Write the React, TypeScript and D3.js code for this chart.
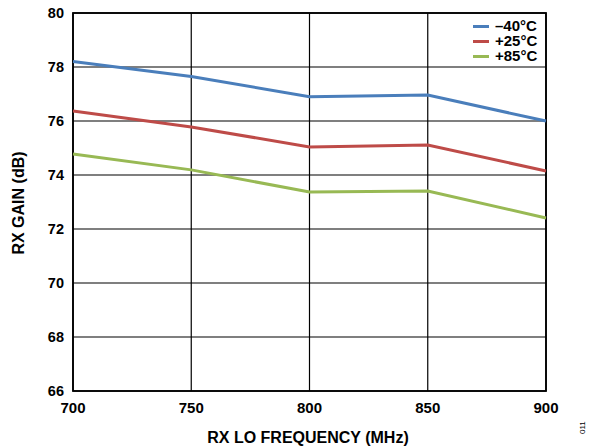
import React from "react";
import * as d3 from "d3";

const freqs = [700, 750, 800, 850, 900];
const gainM40 = [78.2, 77.65, 76.9, 76.96, 76.0];
const gain25 = [76.37, 75.78, 75.04, 75.11, 74.15];
const gain85 = [74.78, 74.19, 73.37, 73.41, 72.41];
const seriesNames = ["\u201340\u00B0C", "+25\u00B0C", "+85\u00B0C"];
const seriesColors = ["#4a7ebb", "#be4b48", "#98b954"];
const xTicks = [700, 750, 800, 850, 900];
const yTicks = [66, 68, 70, 72, 74, 76, 78, 80];

export default function App() {
  const W = 589, H = 446;
  const left = 73, right = 546, top = 13, bottom = 391;
  const x = d3.scaleLinear().domain([700, 900]).range([left, right]);
  const y = d3.scaleLinear().domain([66, 80]).range([bottom, top]);
  const series = [gainM40, gain25, gain85];
  const line = d3.line<number>().x((_, i) => x(freqs[i])).y((d) => y(d));
  const font = "'Liberation Sans', Arial, sans-serif";
  return (
    <svg width={W} height={H} style={{ position: "absolute", left: 0, top: 0, background: "#fff" }} fontFamily={font}>
      {yTicks.map((t) => (
        <line key={"gy" + t} x1={left} x2={right} y1={y(t)} y2={y(t)} stroke="#000" strokeWidth={1.2} />
      ))}
      {xTicks.map((t) => (
        <line key={"gx" + t} x1={x(t)} x2={x(t)} y1={top} y2={bottom} stroke="#000" strokeWidth={1.2} />
      ))}
      <rect x={left} y={top} width={right - left} height={bottom - top} fill="none" stroke="#000" strokeWidth={1.8} />
      {series.map((s, i) => (
        <path key={"s" + i} d={line(s) || ""} fill="none" stroke={seriesColors[i]} strokeWidth={3} />
      ))}
      {yTicks.map((t) => (
        <text key={"ty" + t} x={64} y={y(t) + 5} textAnchor="end" fontSize={14.5} fontWeight="bold">{t}</text>
      ))}
      {xTicks.map((t) => (
        <text key={"tx" + t} x={x(t)} y={413} textAnchor="middle" fontSize={15} fontWeight="bold">{t}</text>
      ))}
      <text x={308} y={443} textAnchor="middle" fontSize={16} fontWeight="bold">RX LO FREQUENCY (MHz)</text>
      <text transform={`translate(24,203) rotate(-90)`} textAnchor="middle" fontSize={16} fontWeight="bold">RX GAIN (dB)</text>
      <text transform="translate(585,434) rotate(-90)" textAnchor="start" fontSize={8}>011</text>
      {seriesNames.map((n, i) => (
        <g key={"l" + i}>
          <line x1={473} x2={489} y1={26.5 + i * 15} y2={26.5 + i * 15} stroke={seriesColors[i]} strokeWidth={3} />
          <text x={495} y={31 + i * 15} fontSize={15} fontWeight="bold">{n}</text>
        </g>
      ))}
    </svg>
  );
}
